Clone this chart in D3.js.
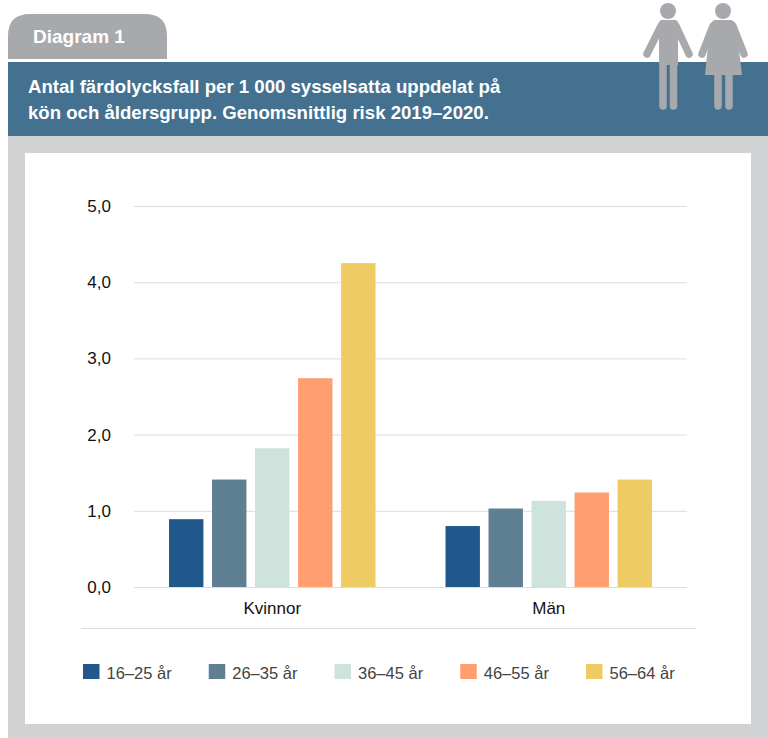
<!DOCTYPE html>
<html>
<head>
<meta charset="utf-8">
<script src="https://cdn.jsdelivr.net/npm/d3@7"></script>
<style>
  html, body { margin: 0; padding: 0; background: #fff; }
  svg { display: block; }
  text { font-family: "Liberation Sans", Arial, sans-serif; }
</style>
</head>
<body>
<div id="chart"></div>
<script>
// Data
const genders = ["Kvinnor", "Män"];
const ageGroups = ["16–25 år", "26–35 år", "36–45 år", "46–55 år", "56–64 år"];
const kvinnorValues = [0.89, 1.41, 1.82, 2.74, 4.25];
const manValues = [0.80, 1.03, 1.13, 1.24, 1.41];
const yTicks = [0, 1, 2, 3, 4, 5];
const colors = ["#20588c", "#5f7f93", "#cde3dc", "#ff9f70", "#efcb63"];
const titleLines = [
    "Antal färdolycksfall per 1 000 sysselsatta uppdelat på",
    "kön och åldersgrupp. Genomsnittlig risk 2019–2020."
];

const svg = d3.select("#chart").append("svg")
    .attr("width", 768)
    .attr("height", 738);

// Background panels
svg.append("rect").attr("x", 8).attr("y", 136).attr("width", 760).attr("height", 602).attr("fill", "#d1d2d4");
svg.append("rect").attr("x", 8).attr("y", 62).attr("width", 760).attr("height", 74).attr("fill", "#44718f");
svg.append("rect").attr("x", 25).attr("y", 153).attr("width", 726).attr("height", 571).attr("fill", "#fff");

// Tab with rounded top corners
svg.append("path")
    .attr("d", "M8,59 V36 Q8,14 30,14 H145 Q167,14 167,36 V59 Z")
    .attr("fill", "#a7a9ac");
svg.append("text")
    .attr("x", 33).attr("y", 43)
    .attr("fill", "#fff")
    .attr("font-size", 19)
    .attr("font-weight", "bold")
    .text("Diagram 1");

// Title
svg.selectAll(".title").data(titleLines).enter().append("text")
    .attr("class", "title")
    .attr("x", 28)
    .attr("y", (d, i) => 93 + i * 26)
    .attr("fill", "#fff")
    .attr("font-size", 18.6)
    .attr("font-weight", "bold")
    .text(d => d);

// Man and woman icons
const people = svg.append("g").attr("fill", "#a7a9ac").attr("stroke", "#a7a9ac");
people.append("circle").attr("cx", 668).attr("cy", 11).attr("r", 8).attr("stroke", "none");
people.append("circle").attr("cx", 723).attr("cy", 11).attr("r", 8).attr("stroke", "none");
people.append("path").attr("stroke", "none")
    .attr("d", "M662,20 H675 Q678,20 678,24 V65 H659 V24 Q659,20 662,20 Z");
people.append("path").attr("stroke", "none")
    .attr("d", "M715,20 H731 Q734,20 736,26 L742,75 H705 L710,26 Q712,20 715,20 Z");
const limbs = [
    [[661, 26], [647, 54]], [[676, 26], [689, 54]],
    [[663, 60], [663, 106]], [[673.5, 60], [673.5, 106]],
    [[713, 26], [702, 54]], [[733, 26], [744, 54]],
    [[718, 70], [718, 106]], [[729, 70], [729, 106]]
];
people.selectAll(".limb").data(limbs).enter().append("path")
    .attr("class", "limb")
    .attr("d", d3.line())
    .attr("fill", "none")
    .attr("stroke-width", 7.5)
    .attr("stroke-linecap", "round");

// Scales
const y = d3.scaleLinear().domain([0, 5]).range([587, 206]);
const x0 = d3.scaleBand().domain(genders).range([134, 687]);
const x1 = d3.scaleBand().domain(ageGroups).range([35, 241.5]).paddingInner(0.2);

// Gridlines and y axis
const yAxis = svg.append("g")
    .attr("transform", "translate(134,0)")
    .call(d3.axisLeft(y).tickValues(yTicks).tickSize(-553).tickPadding(23)
        .tickFormat(d => d3.format(".1f")(d).replace(".", ",")));
yAxis.select(".domain").remove();
yAxis.selectAll("line").attr("stroke", "#dcddde");
yAxis.selectAll("text")
    .attr("fill", "#111")
    .attr("font-size", 17)
    .style("font-family", '"Liberation Sans", Arial, sans-serif');

// Bars
const rows = [kvinnorValues, manValues];
const groups = svg.selectAll(".group").data(genders).enter().append("g")
    .attr("class", "group")
    .attr("transform", d => "translate(" + x0(d) + ",0)");
groups.selectAll("rect")
    .data((d, i) => rows[i].map((v, j) => ({age: ageGroups[j], value: v})))
    .enter().append("rect")
    .attr("x", d => x1(d.age))
    .attr("y", d => y(d.value))
    .attr("width", x1.bandwidth())
    .attr("height", d => y(0) - y(d.value))
    .attr("fill", (d, i) => colors[i]);

// Category labels
const xAxis = svg.append("g")
    .attr("transform", "translate(0,587)")
    .call(d3.axisBottom(x0).tickSize(0).tickPadding(15));
xAxis.select(".domain").remove();
xAxis.selectAll("text")
    .attr("fill", "#111")
    .attr("font-size", 17)
    .style("font-family", '"Liberation Sans", Arial, sans-serif');

// Line above the legend
svg.append("line")
    .attr("x1", 81).attr("x2", 696)
    .attr("y1", 628.5).attr("y2", 628.5)
    .attr("stroke", "#dcddde");

// Legend
const legendX = d3.scalePoint().domain(ageGroups).range([83, 586]);
const legend = svg.selectAll(".legend").data(ageGroups).enter().append("g")
    .attr("class", "legend")
    .attr("transform", d => "translate(" + legendX(d) + ",664)");
legend.append("rect")
    .attr("width", 16.5)
    .attr("height", 15)
    .attr("fill", (d, i) => colors[i]);
legend.append("text")
    .attr("x", 23.5)
    .attr("y", 14.5)
    .attr("fill", "#444")
    .attr("font-size", 16.5)
    .text(d => d);
</script>
</body>
</html>
